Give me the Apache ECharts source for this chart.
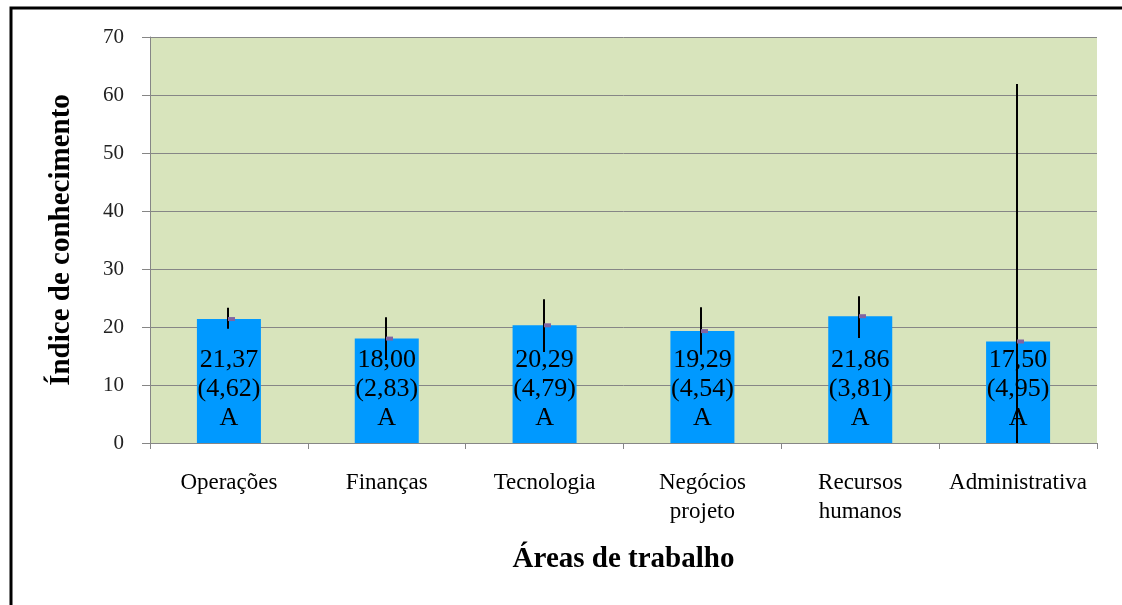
<!DOCTYPE html>
<html>
<head>
<meta charset="utf-8">
<script src="https://cdn.jsdelivr.net/npm/echarts@6/dist/echarts.min.js"></script>
<style>
  html, body { margin: 0; padding: 0; background: #fff; }
  #chart { width: 1122px; height: 605px; }
</style>
</head>
<body>
<div id="chart"></div>
<script>
// dados
var areas = ['Operações', 'Finanças', 'Tecnologia', 'Negócios\nprojeto', 'Recursos\nhumanos', 'Administrativa'];
var medias = [21.37, 18.00, 20.29, 19.29, 21.86, 17.50];
var desvios = [4.62, 2.83, 4.79, 4.54, 3.81, 4.95];
var grupos = ['A', 'A', 'A', 'A', 'A', 'A'];
// barras de erro (limites inferior / superior)
var erroMin = [19.7, 14.3, 15.7, 15.2, 18.1, -26.9];
var erroMax = [23.3, 21.7, 24.8, 23.4, 25.3, 61.9];

var serif = '"Liberation Serif", "DejaVu Serif", serif';

function fmt(v) {
    return v.toFixed(2).replace('.', ',');
}

var erroData = [];
for (var i = 0; i < areas.length; i++) {
    erroData.push([i, erroMin[i], erroMax[i], medias[i]]);
}

var chart = echarts.init(document.getElementById('chart'));

var option = {
    animation: false,
    graphic: [{
        type: 'rect',
        shape: { x: 11, y: 8, width: 1300, height: 800 },
        style: { fill: null, stroke: '#000', lineWidth: 3 },
        silent: true
    }],
    grid: {
        left: 150,
        right: 25,
        top: 37,
        bottom: 162,
        show: true,
        backgroundColor: '#D8E4BC',
        borderWidth: 0
    },
    xAxis: {
        type: 'category',
        data: areas,
        name: 'Áreas de trabalho',
        nameLocation: 'middle',
        nameGap: 102,
        nameTextStyle: { fontFamily: serif, fontSize: 29, fontWeight: 'bold', color: '#000' },
        axisLine: { lineStyle: { color: '#868686', width: 1 } },
        axisTick: { show: true, length: 6, alignWithLabel: false, lineStyle: { color: '#868686' } },
        axisLabel: {
            interval: 0,
            margin: 25,
            fontFamily: serif,
            fontSize: 23,
            lineHeight: 29,
            color: '#000',
            verticalAlign: 'top'
        }
    },
    yAxis: {
        type: 'value',
        min: 0,
        max: 70,
        interval: 10,
        name: 'Índice de conhecimento',
        nameLocation: 'middle',
        nameRotate: 90,
        nameGap: 74,
        nameTextStyle: { fontFamily: serif, fontSize: 29, fontWeight: 'bold', color: '#000' },
        axisLine: { show: true, lineStyle: { color: '#868686', width: 1 } },
        axisTick: { show: true, length: 8, lineStyle: { color: '#868686' } },
        axisLabel: { margin: 26, fontFamily: serif, fontSize: 21, color: '#222' },
        splitLine: { show: true, lineStyle: { color: '#868686', width: 1 } }
    },
    series: [{
        type: 'bar',
        data: medias,
        barWidth: 64,
        itemStyle: { color: '#0099FF' },
        label: {
            show: true,
            position: 'insideBottom',
            distance: 10,
            fontFamily: serif,
            fontSize: 26,
            lineHeight: 29,
            color: '#000',
            formatter: function (p) {
                var k = p.dataIndex;
                return fmt(medias[k]) + '\n(' + fmt(desvios[k]) + ')\n' + grupos[k];
            }
        }
    }, {
        type: 'custom',
        clip: true,
        z: 5,
        data: erroData,
        renderItem: function (params, api) {
            var lo = api.coord([api.value(0), api.value(1)]);
            var hi = api.coord([api.value(0), api.value(2)]);
            var mid = api.coord([api.value(0), api.value(3)]);
            var x = Math.round(lo[0]) - 1;
            return {
                type: 'group',
                children: [{
                    type: 'line',
                    shape: { x1: x, y1: lo[1], x2: x, y2: hi[1] },
                    style: { stroke: '#000', lineWidth: 2 }
                }, {
                    type: 'rect',
                    shape: { x: x, y: mid[1] - 2, width: 7, height: 4 },
                    style: { fill: '#8064A2' }
                }]
            };
        }
    }]
};

chart.setOption(option);
</script>
</body>
</html>
